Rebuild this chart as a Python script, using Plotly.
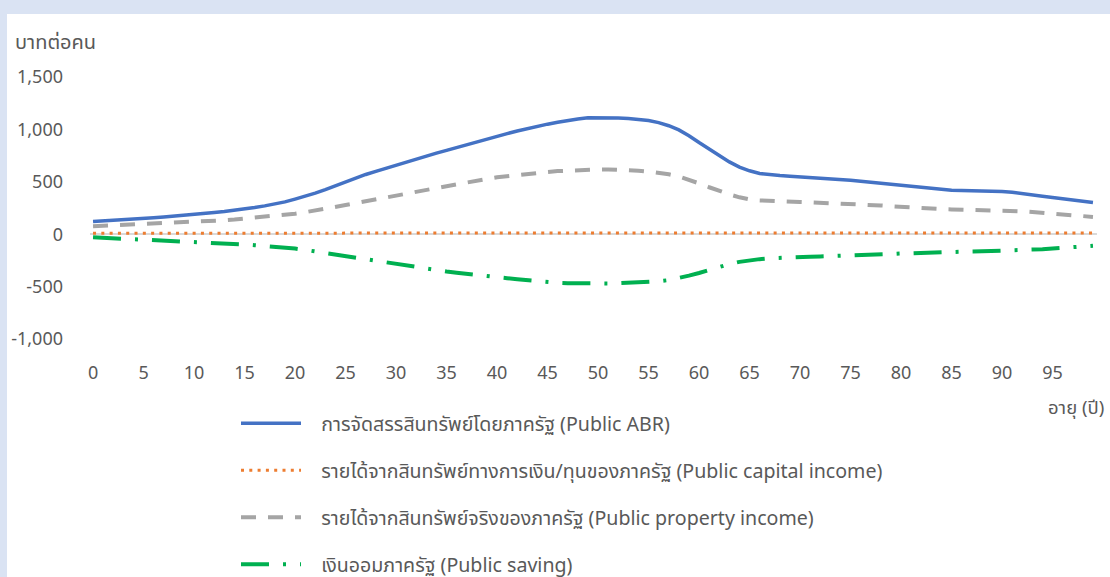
import plotly.graph_objects as go

ages = list(range(0, 100))
x_ticks = list(range(0, 100, 5))
y_ticks = [-1000, -500, 0, 500, 1000, 1500]

names = [
    "การจัดสรรสินทรัพย์โดยภาครัฐ (Public ABR)",
    "รายได้จากสินทรัพย์ทางการเงิน/ทุนของภาครัฐ (Public capital income)",
    "รายได้จากสินทรัพย์จริงของภาครัฐ (Public property income)",
    "เงินออมภาครัฐ (Public saving)",
]

public_abr = [
    120, 125, 132, 138, 144, 150, 157, 165, 172, 180,
    190, 198, 207, 217, 228, 240, 255, 270, 288, 308,
    335, 362, 392, 425, 462, 500, 535, 570, 600, 630,
    660, 690, 718, 746, 773, 800, 828, 856, 884, 910,
    935, 960, 985, 1008, 1030, 1050, 1068, 1085, 1100, 1110,
    1112, 1110, 1108, 1105, 1098, 1085, 1065, 1035, 995, 940,
    875, 810, 750, 690, 640, 605, 580, 568, 560, 553,
    548, 543, 538, 532, 524, 515, 506, 496, 486, 476,
    466, 456, 446, 436, 427, 420, 416, 415, 415, 413,
    408, 400, 390, 377, 363, 350, 338, 326, 315, 303,
]

public_capital_income = [
    10, 10, 10, 10, 10, 10, 10, 10, 10, 10,
    10, 10, 10, 11, 11, 11, 11, 11, 11, 11,
    11, 12, 12, 12, 12, 12, 12, 12, 12, 12,
    13, 13, 13, 13, 13, 13, 13, 13, 13, 13,
    13, 13, 13, 13, 13, 13, 13, 13, 13, 13,
    13, 13, 13, 13, 13, 13, 13, 12, 12, 12,
    12, 12, 11, 11, 11, 11, 11, 11, 11, 11,
    11, 11, 11, 11, 11, 11, 11, 11, 11, 11,
    11, 11, 11, 11, 11, 11, 11, 11, 11, 11,
    11, 11, 11, 11, 11, 11, 11, 11, 11, 11,
]

public_property_income = [
    76, 80, 84, 88, 93, 97, 100, 103, 106, 110,
    115, 120, 126, 133, 140, 148, 157, 166, 175, 185,
    196, 210, 225, 242, 260, 278, 296, 315, 335, 352,
    370, 388, 405, 422, 440, 458, 477, 495, 512, 528,
    543, 555, 566, 576, 585, 594, 602, 608, 613, 617,
    618, 618, 616, 612, 606, 598, 588, 572, 550, 520,
    485, 448, 412, 380, 352, 332, 322, 316, 312, 309,
    307, 304, 301, 298, 295, 291, 286, 280, 274, 267,
    260, 254, 248, 243, 239, 236, 234, 232, 231, 230,
    228, 224, 219, 212, 204, 196, 188, 180, 172, 165,
]

public_saving = [
    -30, -34, -38, -42, -46, -50, -54, -58, -62, -66,
    -70, -75, -80, -86, -92, -98, -105, -112, -120, -128,
    -137, -150, -165, -180, -196, -210, -224, -240, -256, -272,
    -288, -302, -316, -330, -343, -356, -368, -380, -391, -401,
    -411, -420, -430, -440, -450, -457, -463, -467, -470, -471,
    -471, -470, -468, -465, -461, -456, -449, -438, -420, -395,
    -370, -340, -310, -285, -264, -248, -238, -230, -224, -220,
    -216, -214, -212, -210, -208, -206, -203, -200, -195, -189,
    -184, -180, -176, -173, -171, -169, -167, -165, -163, -161,
    -159, -156, -152, -148, -143, -137, -130, -122, -115, -110,
]

FONT = "Noto Sans, Noto Sans Thai, Tahoma, sans-serif"
TXT = "#595959"
PAD = "\u00a0\u00a0\u00a0"

fig = go.Figure()
fig.add_trace(go.Scatter(x=ages, y=public_abr, mode="lines", name=PAD + names[0],
                         legendgroup="a",
                         line=dict(color="#4472C4", width=3.5)))
fig.add_trace(go.Scatter(x=ages, y=public_capital_income, mode="lines", name=PAD + names[1],
                         legendgroup="b",
                         line=dict(color="#ED7D31", width=3, dash="3px,5.3px")))
fig.add_trace(go.Scatter(x=ages, y=public_property_income, mode="lines", name=PAD + names[2],
                         legendgroup="c",
                         line=dict(color="#A5A5A5", width=4, dash="15px,12px")))
fig.add_trace(go.Scatter(x=ages, y=public_saving, mode="lines", name=PAD + names[3],
                         legendgroup="d",
                         line=dict(color="#00B050", width=4, dash="28px,14px,3px,14px")))

W, H = 1110, 577
ml, mr, mt, mb = 90, 13, 77, 238
pw, ph = W - ml - mr, H - mt - mb


def px_to_paper_x(px):
    return (px - ml) / pw


def px_to_paper_y(py):
    return (H - mb - py) / ph


fig.update_layout(
    width=W, height=H,
    margin=dict(l=ml, r=mr, t=mt, b=mb, pad=0, autoexpand=False),
    paper_bgcolor="#DAE3F3",
    plot_bgcolor="rgba(0,0,0,0)",
    font=dict(family=FONT, size=18, color=TXT),
    showlegend=True,
    legend=dict(
        x=px_to_paper_x(236), xanchor="left",
        y=px_to_paper_y(404), yanchor="top",
        orientation="v",
        traceorder="grouped",
        tracegroupgap=18.5,
        itemwidth=60,
        font=dict(family=FONT, size=19.6, color=TXT),
        bgcolor="rgba(0,0,0,0)",
    ),
    xaxis=dict(
        range=[-0.3, 99.4],
        tickmode="array", tickvals=x_ticks,
        ticktext=[str(v) for v in x_ticks],
        showgrid=False, zeroline=False, showline=False,
        ticks="", ticklabelstandoff=21,
        tickfont=dict(family=FONT, size=18, color=TXT),
    ),
    yaxis=dict(
        range=[-1000, 1500],
        tickmode="array", tickvals=y_ticks,
        ticktext=[f"{v:,}" for v in y_ticks],
        showgrid=False,
        zeroline=True, zerolinecolor="#D9D9D9", zerolinewidth=1.5,
        showline=False, ticks="", ticklabelstandoff=26,
        tickfont=dict(family=FONT, size=18, color=TXT),
    ),
    shapes=[
        dict(type="rect", xref="paper", yref="paper", layer="below",
             x0=px_to_paper_x(7), x1=px_to_paper_x(W + 5),
             y0=px_to_paper_y(H + 5), y1=px_to_paper_y(14),
             fillcolor="white", line=dict(width=0)),
    ],
    annotations=[
        dict(text="บาทต่อคน", xref="paper", yref="paper",
             x=px_to_paper_x(13), y=px_to_paper_y(42),
             xanchor="left", yanchor="middle", showarrow=False,
             font=dict(family=FONT, size=20, color=TXT)),
        dict(text="อายุ (ปี)", xref="paper", yref="paper",
             x=px_to_paper_x(1106), y=px_to_paper_y(406),
             xanchor="right", yanchor="middle", showarrow=False,
             font=dict(family=FONT, size=18.5, color=TXT)),
    ],
)

fig.write_html("out.html",
               config={"displayModeBar": False},
               post_script="document.body.style.margin='0';document.body.style.background='#DAE3F3';")
